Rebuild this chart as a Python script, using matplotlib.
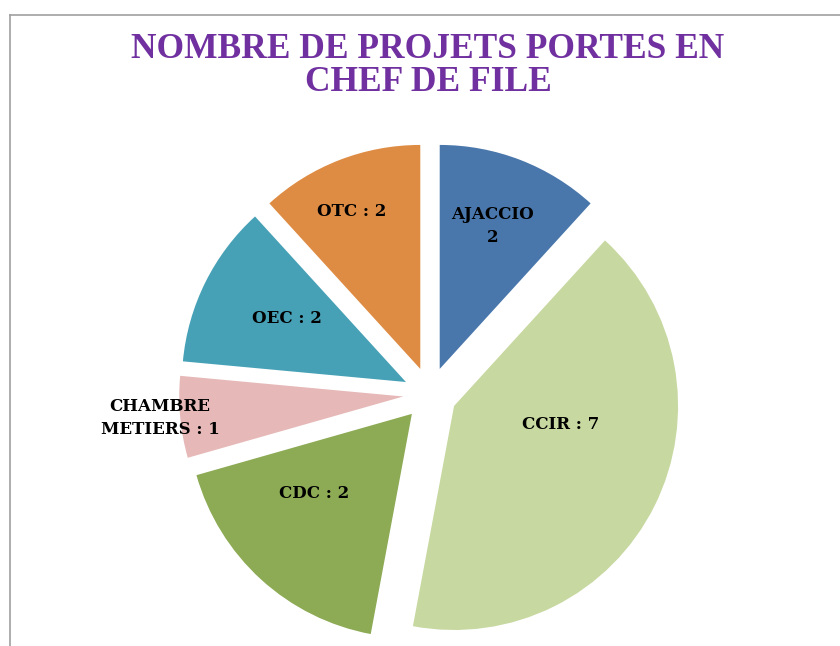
import matplotlib.pyplot as plt
from matplotlib.lines import Line2D

# données
categories = ['AJACCIO', 'CCIR', 'CDC', 'CHAMBRE METIERS', 'OEC', 'OTC']
valeurs = [2, 7, 3, 1, 2, 2]
etiquettes = ['AJACCIO\n2', 'CCIR : 7', 'CDC : 2', 'CHAMBRE\nMETIERS : 1', 'OEC : 2', 'OTC : 2']
couleurs = ['#4977AC', '#C7D8A0', '#8DAA55', '#E6B9B8', '#46A0B6', '#DE8C44']

# position des étiquettes (en rayons, relatif au centre)
pos_etiq = [(0.28, 0.75), (0.585, -0.134), (-0.518, -0.442),
            (-1.205, -0.107), (-0.638, 0.339), (-0.348, 0.8125)]

W, H = 840, 646
fig = plt.figure(figsize=(W / 100, H / 100), dpi=100)

# axe : centre du camembert à (430, 394) px, rayon 224 px
cx, cy, R = 430, 394, 224
ax = fig.add_axes([(cx - 1.5 * R) / W, (H - cy - 1.5 * R) / H, 3 * R / W, 3 * R / H])
ax.pie(valeurs, colors=couleurs, startangle=90, counterclock=False,
       explode=[0.12] * len(valeurs), radius=1.0,
       wedgeprops=dict(linewidth=0))
ax.set_xlim(-1.5, 1.5)
ax.set_ylim(-1.5, 1.5)
ax.set_aspect('equal')
ax.axis('off')

for txt, (x, y) in zip(etiquettes, pos_etiq):
    ax.text(x, y, txt, ha='center', va='center', fontsize=12,
            fontweight='bold', family='DejaVu Serif', color='black',
            linespacing=1.4)

# titre
fig.text(428 / W, 1 - 66 / H, 'NOMBRE DE PROJETS PORTES EN\nCHEF DE FILE',
         ha='center', va='center', fontsize=25.5, fontweight='bold',
         family='Liberation Serif', color='#7030A0', linespacing=1.02)

# cadre gris
fig.add_artist(Line2D([10 / W, 10 / W], [0, 1 - 15 / H], transform=fig.transFigure,
                      color='#A0A0A0', linewidth=1.2))
fig.add_artist(Line2D([10 / W, 1], [1 - 15 / H, 1 - 15 / H], transform=fig.transFigure,
                      color='#A0A0A0', linewidth=1.2))

plt.savefig('out.png', dpi=100)
plt.close()
